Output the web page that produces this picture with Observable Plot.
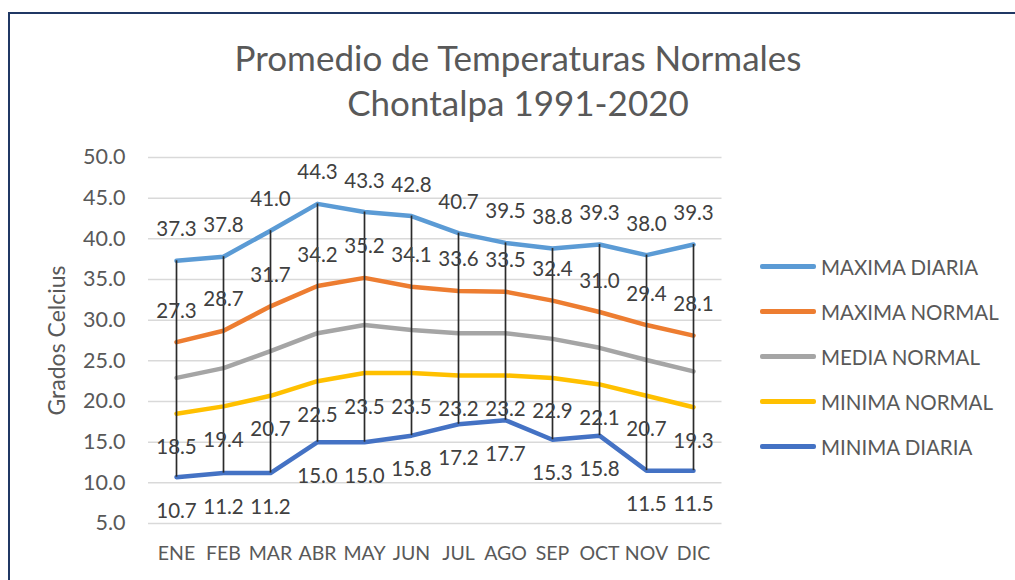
<!DOCTYPE html>
<html>
<head>
<meta charset="utf-8">
<script src="https://cdn.jsdelivr.net/npm/d3@7"></script>
<script src="https://cdn.jsdelivr.net/npm/@observablehq/plot@0.6"></script>
<style>
  body { margin: 0; background: #fff; font-family: Lato, "Open Sans", sans-serif; }
  #frame { position: relative; width: 1015px; height: 580px; overflow: hidden; background: #fff; }
  #border { position: absolute; left: 8px; top: 12px; width: 1100px; height: 700px;
            border-top: 2px solid #203864; border-left: 2px solid #203864; }
  #title { position: absolute; top: 35px; left: 0; width: 1036px; text-align: center;
           font-size: 35px; line-height: 45px; color: #595959; }
  #chart { position: absolute; left: 0; top: 130px; }
  #legend { position: absolute; left: 760px; top: 244px; font-size: 20.5px; color: #595959; }
  .item { display: flex; align-items: center; height: 45px; }
  .sw { width: 56px; height: 4.5px; border-radius: 2px; margin-right: 5px; }
</style>
</head>
<body>
<div id="frame">
  <div id="border"></div>
  <div id="title">Promedio de Temperaturas Normales<br>Chontalpa 1991-2020</div>
  <div id="chart"></div>
  <div id="legend"></div>
</div>
<script>
const months = ["ENE","FEB","MAR","ABR","MAY","JUN","JUL","AGO","SEP","OCT","NOV","DIC"];
const maximaDiaria = [37.3,37.8,41.0,44.3,43.3,42.8,40.7,39.5,38.8,39.3,38.0,39.3];
const maximaNormal = [27.3,28.7,31.7,34.2,35.2,34.1,33.6,33.5,32.4,31.0,29.4,28.1];
const mediaNormal  = [22.9,24.1,26.2,28.4,29.4,28.8,28.4,28.4,27.7,26.6,25.1,23.7];
const minimaNormal = [18.5,19.4,20.7,22.5,23.5,23.5,23.2,23.2,22.9,22.1,20.7,19.3];
const minimaDiaria = [10.7,11.2,11.2,15.0,15.0,15.8,17.2,17.7,15.3,15.8,11.5,11.5];
const yTicks = [5,10,15,20,25,30,35,40,45,50];

const seriesNames = ["MAXIMA DIARIA","MAXIMA NORMAL","MEDIA NORMAL","MINIMA NORMAL","MINIMA DIARIA"];
const seriesValues = [maximaDiaria, maximaNormal, mediaNormal, minimaNormal, minimaDiaria];
const seriesColors = ["#5B9BD5","#ED7D31","#A5A5A5","#FFC000","#4472C4"];
const labelOffset = [-31, -31, null, 34, 34];

const rows = [];
seriesNames.forEach((s, i) => months.forEach((m, j) => rows.push({series: s, month: m, value: seriesValues[i][j]})));
const hilo = months.map((m, j) => ({month: m, hi: maximaDiaria[j], lo: minimaDiaria[j]}));

const marks = [
  Plot.gridY(yTicks, {stroke: "#d9d9d9", strokeOpacity: 1, strokeWidth: 1.5}),
  Plot.axisY(yTicks, {tickSize: 0, tickPadding: 23, tickFormat: d3.format(".1f"), fontSize: 21.5, fill: "#595959", label: null}),
  Plot.axisX({tickSize: 0, tickPadding: 23, fontSize: 19.5, fill: "#595959", label: null}),
  Plot.text(["Grados Celcius"], {frameAnchor: "left", dx: -91, rotate: -90, textAnchor: "middle", fontSize: 23, fill: "#595959"})
];
seriesNames.forEach((s, i) => {
  marks.push(Plot.line(rows.filter(r => r.series === s), {x: "month", y: "value", stroke: seriesColors[i], strokeWidth: 4.5, strokeLinecap: "round", strokeLinejoin: "round"}));
});
marks.push(Plot.ruleX(hilo, {x: "month", y1: "lo", y2: "hi", stroke: "#2b2b2b", strokeWidth: 1.7}));
seriesNames.forEach((s, i) => {
  if (labelOffset[i] == null) return;
  marks.push(Plot.text(rows.filter(r => r.series === s), {x: "month", y: "value", text: d => d3.format(".1f")(d.value), dy: labelOffset[i], fontSize: 20.5, fill: "#404040"}));
});

const chart = Plot.plot({
  width: 1015, height: 450,
  marginLeft: 148, marginRight: 293.5, marginTop: 27, marginBottom: 57,
  style: {fontFamily: "Lato, 'Open Sans', sans-serif", background: "transparent", overflow: "visible"},
  x: {type: "point", domain: months, padding: 0.5},
  y: {domain: [5, 50]},
  marks
});
document.getElementById("chart").appendChild(chart);

const leg = document.getElementById("legend");
seriesNames.forEach((s, i) => {
  const it = document.createElement("div"); it.className = "item";
  const sw = document.createElement("div"); sw.className = "sw"; sw.style.background = seriesColors[i];
  const tx = document.createElement("span"); tx.textContent = s;
  it.appendChild(sw); it.appendChild(tx); leg.appendChild(it);
});
</script>
</body>
</html>
